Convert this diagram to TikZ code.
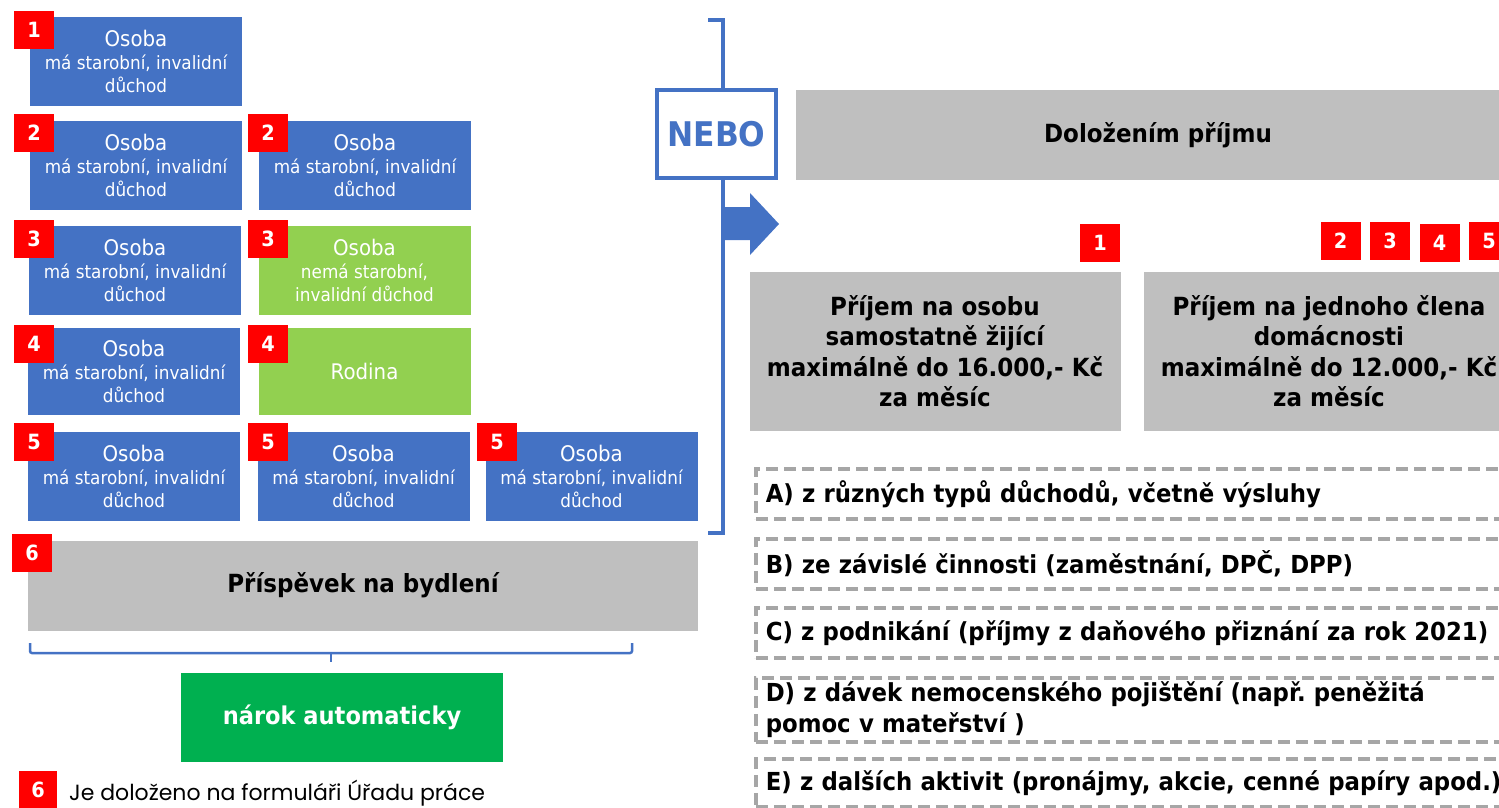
\documentclass[tikz,border=0pt]{standalone}
\usepackage{fontspec}
\setmainfont{DejaVu Sans}[FakeStretch=0.92]
\newfontfamily\poznamkafont{Poppins}
\frenchspacing
\definecolor{modra}{HTML}{4472C4}
\definecolor{zelena}{HTML}{92D050}
\definecolor{tmzelena}{HTML}{00B050}
\definecolor{seda}{HTML}{BFBFBF}
\definecolor{carky}{HTML}{A6A6A6}
\tikzset{
  osoba/.style={fill=modra, text=white, minimum width=212pt, minimum height=89pt, inner sep=0pt, align=center, font=\fontsize{18.3}{23}\selectfont},
  nemaosoba/.style={osoba, fill=zelena},
  cislo/.style={fill=red, text=white, minimum width=40pt, minimum height=38pt, inner sep=0pt, font=\bfseries\fontsize{21}{21}\selectfont},
  sedybox/.style={fill=seda, inner sep=0pt, align=center, font=\bfseries\fontsize{25}{30}\selectfont},
  zdroj/.style={draw=carky, dash pattern=on 12pt off 6pt, line width=3.5pt, anchor=north west, text width=740pt, inner xsep=10pt, inner ysep=0pt, minimum height=50pt, align=left, font=\bfseries\fontsize{24.8}{31}\selectfont},
}
\newcommand{\os}[1]{{\fontsize{21.5}{23}\selectfont #1}}
\begin{document}
\begin{tikzpicture}[x=1pt,y=-1pt]
\useasboundingbox (0,0) rectangle (1499,807);
\clip (0,0) rectangle (1499,807);
\node[osoba] (o1) at (136,61.5) {\os{Osoba}\\má starobní, invalidní\\důchod};
\node[osoba] (o2a) at (136,165.5) {\os{Osoba}\\má starobní, invalidní\\důchod};
\node[osoba] (o2b) at (365,165.5) {\os{Osoba}\\má starobní, invalidní\\důchod};
\node[osoba] (o3a) at (135,270) {\os{Osoba}\\má starobní, invalidní\\důchod};
\node[nemaosoba] (o3b) at (364.5,270.5) {\os{Osoba}\\nemá starobní,\\invalidní důchod};
\node[osoba, minimum height=87pt] (o4a) at (134,371.5) {\os{Osoba}\\má starobní, invalidní\\důchod};
\node[nemaosoba, minimum height=87pt] (o4b) at (364.5,371.5) {\os{Rodina}};
\node[osoba] (o5a) at (134,476) {\os{Osoba}\\má starobní, invalidní\\důchod};
\node[osoba] (o5b) at (363.5,476) {\os{Osoba}\\má starobní, invalidní\\důchod};
\node[osoba] (o5c) at (591.5,476.5) {\os{Osoba}\\má starobní, invalidní\\důchod};
\node[cislo] (c1) at (34,30) {1};
\node[cislo] (c2a) at (34,133) {2};
\node[cislo] (c2b) at (268,133) {2};
\node[cislo] (c3a) at (34,239) {3};
\node[cislo] (c3b) at (268,239) {3};
\node[cislo] (c4a) at (34,344) {4};
\node[cislo] (c4b) at (268,344) {4};
\node[cislo] (c5a) at (34,442) {5};
\node[cislo] (c5b) at (268,442) {5};
\node[cislo] (c5c) at (497,442) {5};
\node[sedybox, minimum width=670pt, minimum height=90pt] (prispevek) at (363,585.5) {Příspěvek na bydlení};
\node[cislo] (c6) at (32,553) {6};
\draw[modra, line width=2.5pt, rounded corners=2pt] (30,643) -- (30,653) -- (632,653) -- (632,643);
\draw[modra, line width=2.5pt] (331,653) -- (331,662);
\node[fill=tmzelena, text=white, minimum width=322pt, minimum height=89pt, font=\bfseries\fontsize{24.5}{30}\selectfont] (narok) at (342,717.5) {nárok automaticky};
\node[cislo, minimum width=38pt] (c6p) at (38,790) {6};
\node[anchor=base west, inner sep=0pt, font=\poznamkafont\fontsize{22}{24}\selectfont] (poznamka) at (69,800) {Je doloženo na formuláři Úřadu práce};
\draw[modra, line width=3.5pt] (708,20) -- (723,20) -- (723,533) -- (708,533);
\fill[modra] (723,207) -- (750,207) -- (750,193) -- (779,224) -- (750,255) -- (750,240) -- (723,240) -- cycle;
\node[draw=modra, line width=3.5pt, fill=white, text=modra, minimum width=119pt, minimum height=88pt, font=\bfseries\fontsize{34}{34}\selectfont] (nebo) at (716.5,134) {NEBO};
\node[sedybox, minimum width=724pt, minimum height=90pt] (dolozeni) at (1158,135) {Doložením příjmu};
\node[cislo] (p1) at (1100,243) {1};
\node[cislo] (p2) at (1340.5,241) {2};
\node[cislo] (p3) at (1390,241) {3};
\node[cislo] (p4) at (1439.5,243) {4};
\node[cislo] (p5) at (1489,241) {5};
\node[sedybox, minimum width=371pt, minimum height=159pt, font=\bfseries\fontsize{25}{30.5}\selectfont] (samostatne) at (935,351) {Příjem na osobu\\samostatně žijící\\maximálně do 16.000,- Kč\\za měsíc};
\node[sedybox, minimum width=371pt, minimum height=159pt, font=\bfseries\fontsize{25}{30.5}\selectfont] (clen) at (1329,351) {Příjem na jednoho člena\\domácnosti\\maximálně do 12.000,- Kč\\za měsíc};
\node[zdroj] (za) at (754,467) {A) z různých typů důchodů, včetně výsluhy};
\node[zdroj] (zb) at (754,537) {B) ze závislé činnosti (zaměstnání, DPČ, DPP)};
\node[zdroj] (zc) at (754,606) {C) z podnikání (příjmy z daňového přiznání za rok 2021)};
\node[zdroj, minimum height=64pt] (zd) at (754,676) {D) z dávek nemocenského pojištění (např. peněžitá\\pomoc v mateřství )};
\node[zdroj, minimum height=48pt] (ze) at (754,757) {E) z dalších aktivit (pronájmy, akcie, cenné papíry apod.)};
\end{tikzpicture}
\end{document}
